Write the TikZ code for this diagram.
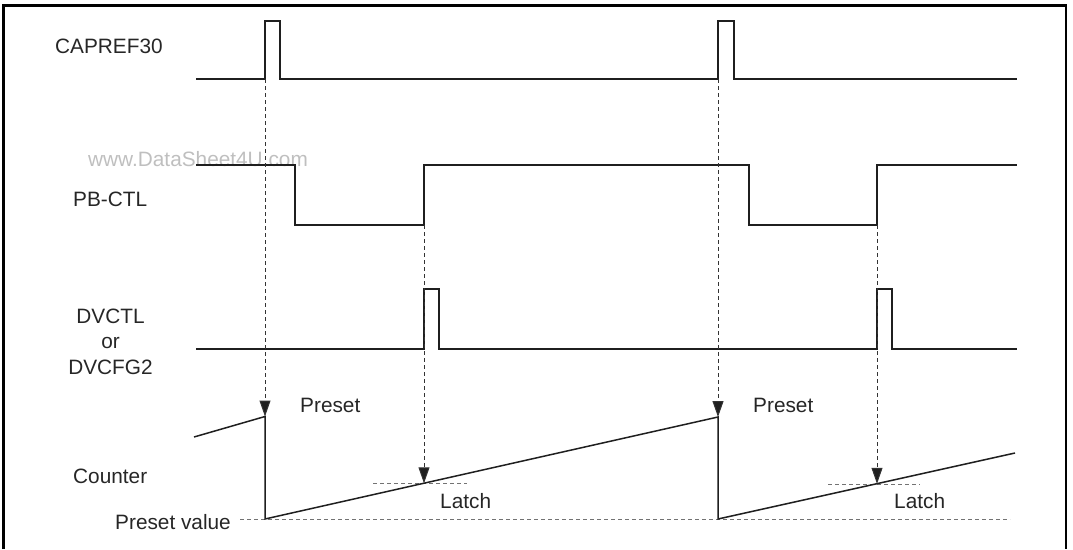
\documentclass[tikz,border=0pt]{standalone}
\usepackage{fontspec}
\setmainfont{Liberation Sans}
\usetikzlibrary{arrows.meta}
\begin{document}
\begin{tikzpicture}[x=1pt,y=-1pt,
  sig/.style={line width=1.5pt, draw=black!88, line join=miter},
  guide/.style={line width=1pt, draw=black!80, dash pattern=on 4pt off 3pt},
  lvl/.style={line width=1pt, draw=black!55, dash pattern=on 4pt off 3pt},
  trig/.style={guide, -{Triangle[length=16pt,width=11pt,fill=black!88]}},
  lbl/.style={inner sep=0pt, anchor=base west, font=\fontsize{20.8}{25}\selectfont, text=black!85},
  lblc/.style={lbl, anchor=base},
]
\useasboundingbox (0,0) rectangle (1073,549);
% frame
\draw[line width=2.5pt] (3.5,549) -- (3.5,5.5) -- (1066,5.5) -- (1066,549);

% labels
\node[lbl] (capref) at (55,53) {CAPREF30};
\node[lbl, text=black!25] (wm) at (88,166) {www.DataSheet4U.com};
\node[lbl] (pbctl) at (73,206) {PB-CTL};
\node[lblc] (dv1) at (110.5,323) {DVCTL};
\node[lblc] (dv2) at (110.5,348.5) {or};
\node[lblc] (dv3) at (110.5,374) {DVCFG2};
\node[lbl] (counter) at (73,483) {Counter};
\node[lbl] (pval) at (115,529) {Preset value};
\node[lbl] (preset1) at (300,412) {Preset};
\node[lbl] (preset2) at (753,412) {Preset};
\node[lbl] (latch1) at (440,508) {Latch};
\node[lbl] (latch2) at (894,508) {Latch};

% key coordinates
\coordinate (capA) at (265,79);
\coordinate (capB) at (718,79);
\coordinate (pbA) at (424,225);
\coordinate (pbB) at (877,225);
\coordinate (cntA) at (265,416.5);
\coordinate (cntB) at (718,417);
\coordinate (latA) at (424,483.3);
\coordinate (latB) at (877,483.8);

% level guides
\draw[lvl] (240,519) -- (1010,519);
\draw[lvl] (373,483.3) -- (467,483.3);
\draw[lvl] (828,484) -- (920,484);

% waveforms
\draw[sig] (196,79) -- (265,79) -- (265,21) -- (280,21) -- (280,79) -- (718,79)
  -- (718,21) -- (734,21) -- (734,79) -- (1017,79);
\draw[sig] (196,165) -- (295,165) -- (295,225) -- (424,225) -- (424,165) -- (749,165)
  -- (749,225) -- (877,225) -- (877,165) -- (1017,165);
\draw[sig] (196,349) -- (424,349) -- (424,289) -- (439,289) -- (439,349) -- (877,349)
  -- (877,289) -- (892,289) -- (892,349) -- (1017,349);
\draw[sig] (194,437) -- (cntA) -- (265,519) -- (cntB) -- (718,519) -- (1015,453);

% trigger arrows
\draw[trig] (capA) -- (cntA);
\draw[trig] (capB) -- (cntB);
\draw[trig] (pbA) -- (latA);
\draw[trig] (pbB) -- (latB);
\end{tikzpicture}
\end{document}
